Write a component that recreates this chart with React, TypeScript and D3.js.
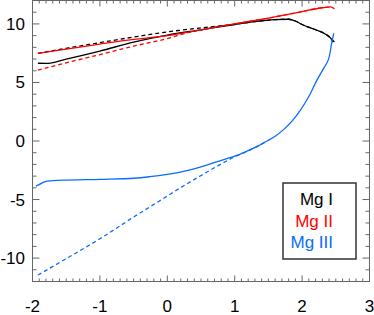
import React from 'react';
import * as d3 from 'd3';

type Pt = [number, number];

// Mg I
const mg1Solid: Pt[] = [
  [-1.92, 6.64], [-1.8, 6.63], [-1.5, 7.0], [-1, 7.68], [-0.5, 8.45], [0, 9.05],
  [0.5, 9.5], [1.0, 9.95], [1.3, 10.2], [1.6, 10.37], [1.8, 10.4], [1.9, 10.25],
  [2.0, 9.95], [2.2, 9.5], [2.35, 9.12], [2.42, 8.8], [2.46, 8.45],
];
const mg1Dashed: Pt[] = [
  [-1.92, 7.48], [-1.5, 7.92], [-1, 8.4], [-0.5, 8.88], [0, 9.32], [0.5, 9.66],
  [1.0, 9.97], [1.3, 10.2], [1.6, 10.37], [1.8, 10.4], [1.9, 10.25], [2.0, 9.95],
  [2.2, 9.5], [2.35, 9.12], [2.42, 8.8], [2.48, 8.45],
];
// Mg II
const mg2Solid: Pt[] = [
  [-1.92, 7.49], [-1.5, 7.85], [-1, 8.28], [-0.5, 8.68], [0, 9.0], [0.5, 9.5],
  [1.0, 10.0], [1.5, 10.5], [2.0, 11.05], [2.3, 11.38], [2.42, 11.45], [2.48, 11.3],
];
const mg2Dashed: Pt[] = [
  [-1.92, 6.06], [-1.5, 6.68], [-1, 7.38], [-0.5, 8.1], [0, 8.75], [0.3, 9.25],
  [0.6, 9.6], [1.0, 10.0], [1.5, 10.5], [2.0, 11.05], [2.3, 11.38], [2.42, 11.45],
];
// Mg III
const mg3Solid: Pt[] = [
  [-1.95, -3.85], [-1.91, -3.75], [-1.81, -3.47], [-1.55, -3.35], [-1, -3.27],
  [-0.5, -3.18], [-0.26, -3.05], [0, -2.85], [0.24, -2.6], [0.5, -2.2],
  [0.73, -1.78], [1.0, -1.3], [1.2, -0.82], [1.35, -0.42], [1.48, 0.0],
  [1.6, 0.4], [1.72, 0.95], [1.85, 1.7], [1.97, 2.6], [2.1, 3.8], [2.22, 5.2],
  [2.32, 6.2], [2.39, 6.95], [2.44, 8.4], [2.47, 9.2],
];
const mg3Dashed: Pt[] = [
  [-1.92, -11.45], [-1.5, -10.05], [-1, -8.35], [-0.5, -6.5], [0, -4.7],
  [0.25, -3.8], [0.5, -2.95], [0.75, -2.12], [1.0, -1.35], [1.2, -0.84],
  [1.35, -0.42], [1.48, 0.0],
];

const xTicks = [-2, -1, 0, 1, 2, 3];
const yTicks = [-10, -5, 0, 5, 10];
const legendNames = ['Mg I', 'Mg II', 'Mg III'];
const colors = ['#000000', '#ff0000', '#0a6cff'];

const W = 374;
const H = 315;
const L = 32.5;
const R = 369.5;
const T = 0.5;
const B = 281.5;

export default function App() {
  const x = d3.scaleLinear().domain([-2, 3]).range([L, R]);
  const y = d3.scaleLinear().domain([-12, 12]).range([B, T]);
  const line = d3.line<Pt>().x((d) => x(d[0])).y((d) => y(d[1])).curve(d3.curveMonotoneX);
  // the Mg III solid curve turns almost vertical near the end
  const lineY = d3.line<Pt>().x((d) => x(d[0])).y((d) => y(d[1])).curve(d3.curveCatmullRom);

  const xMinor = d3.range(-2, 3.001, 0.1).map((v) => +v.toFixed(2));
  const yMinor = d3.range(-12, 12.001, 1);
  const tickColor = '#666';
  const font = 'Liberation Sans, Arial, Helvetica, sans-serif';

  const series = [
    { d: mg1Dashed, c: colors[0], dash: true },
    { d: mg2Dashed, c: colors[1], dash: true },
    { d: mg3Dashed, c: colors[2], dash: true },
    { d: mg1Solid, c: colors[0], dash: false },
    { d: mg2Solid, c: colors[1], dash: false },
    { d: mg3Solid, c: colors[2], dash: false },
  ];

  return (
    <svg width={W} height={H} style={{ position: 'absolute', left: 0, top: 0, background: '#fff' }}>
      <g stroke={tickColor} strokeWidth={1}>
        {xMinor.map((v) => {
          const major = Math.abs(v - Math.round(v)) < 1e-6;
          const len = major ? 6 : 3;
          return (
            <g key={'x' + v}>
              <line x1={x(v)} x2={x(v)} y1={B} y2={B - len} />
              <line x1={x(v)} x2={x(v)} y1={T} y2={T + len} />
            </g>
          );
        })}
        {yMinor.map((v) => {
          const major = v % 5 === 0;
          const len = major ? 7 : 4;
          return (
            <g key={'y' + v}>
              <line x1={L} x2={L + len} y1={y(v)} y2={y(v)} />
              <line x1={R} x2={R - len} y1={y(v)} y2={y(v)} />
            </g>
          );
        })}
        <rect x={L} y={T} width={R - L} height={B - T} fill="none" />
      </g>
      <g fontFamily={font} fontSize={17} fill="#000">
        {xTicks.map((v) => (
          <text key={'xl' + v} x={x(v)} y={312} textAnchor="middle">
            {v}
          </text>
        ))}
        {yTicks.map((v) => (
          <text key={'yl' + v} x={25} y={y(v) + 6} textAnchor="end">
            {v}
          </text>
        ))}
      </g>
      <g fill="none" strokeWidth={1.3}>
        {series.map((s, i) => (
          <path
            key={i}
            d={(s.d === mg3Solid ? lineY : line)(s.d) || ''}
            stroke={s.c}
            strokeDasharray={s.dash ? '4,3' : undefined}
          />
        ))}
      </g>
      <rect x={283} y={183} width={73} height={76} fill="#fff" stroke="#333" strokeWidth={1.5} />
      <g fontFamily={font} fontSize={17}>
        {legendNames.map((n, i) => (
          <text key={n} x={333} y={205 + i * 21.5} textAnchor="end" fill={colors[i]}>
            {n}
          </text>
        ))}
      </g>
    </svg>
  );
}
